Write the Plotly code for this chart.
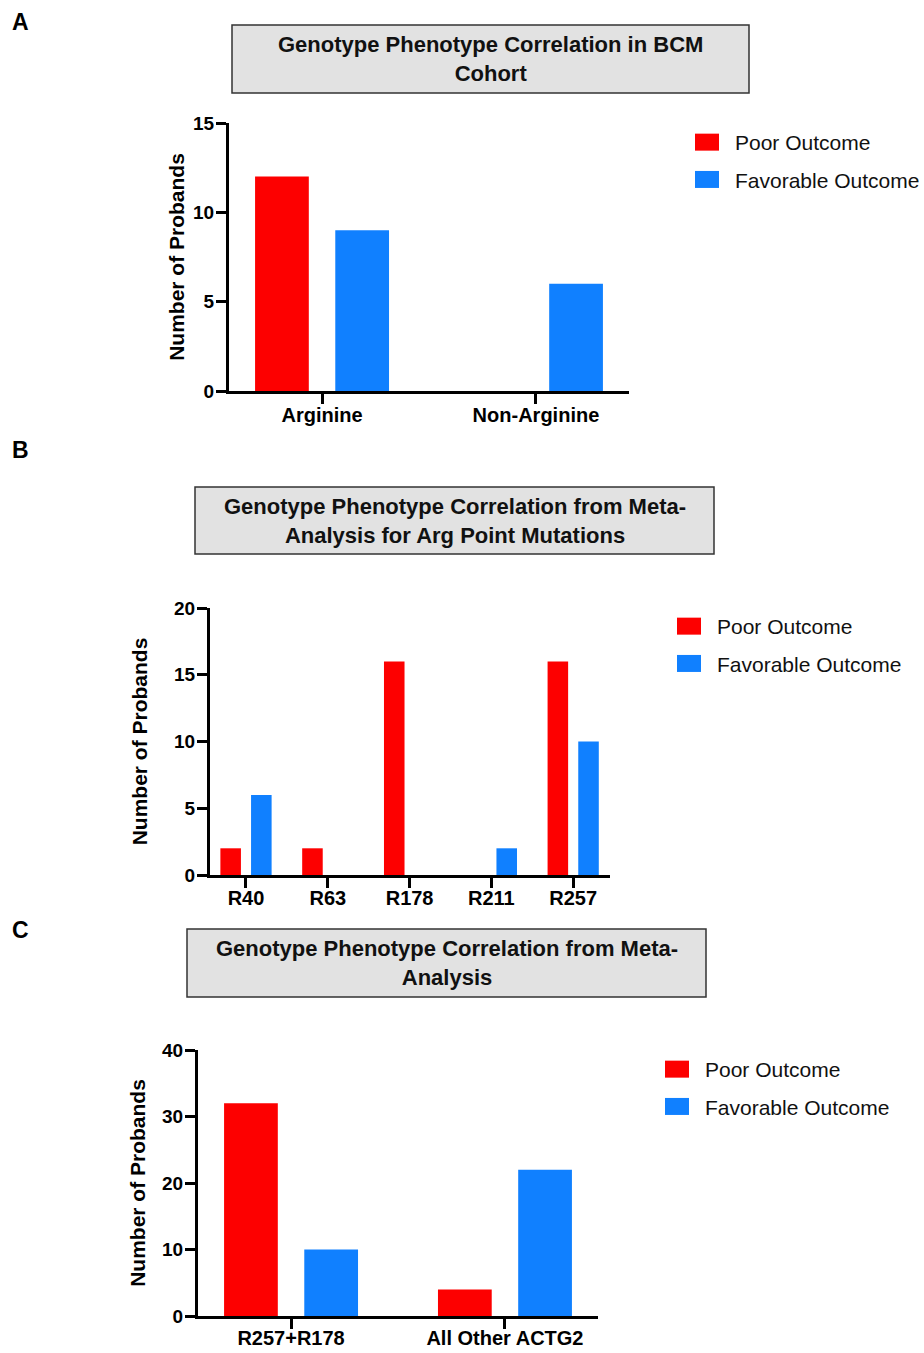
import plotly.graph_objects as go

W, H = 924, 1353

# ---------------- data ----------------
cats_a = ["Arginine", "Non-Arginine"]
poor_a = [12, 0]
fav_a = [9, 6]

cats_b = ["R40", "R63", "R178", "R211", "R257"]
poor_b = [2, 2, 16, 0, 16]
fav_b = [6, 0, 0, 2, 10]

cats_c = ["R257+R178", "All Other ACTG2"]
poor_c = [32, 4]
fav_c = [10, 22]

series_names = ["Poor Outcome", "Favorable Outcome"]
titles = [
    "Genotype Phenotype Correlation in BCM<br>Cohort",
    "Genotype Phenotype Correlation from Meta-<br>Analysis for Arg Point Mutations",
    "Genotype Phenotype Correlation from Meta-<br>Analysis",
]
panel_letters = ["A", "B", "C"]
y_title = "Number of Probands"

RED = "#fd0000"
BLUE = "#1080ff"
FONT = "Liberation Sans, Arial, Helvetica, sans-serif"


def px(x):
    return x / W


def py(y):
    return 1 - y / H


fig = go.Figure()

panels = [
    dict(cats=cats_a, poor=poor_a, fav=fav_a, xs="x", ys="y", leg="legend"),
    dict(cats=cats_b, poor=poor_b, fav=fav_b, xs="x2", ys="y2", leg="legend2"),
    dict(cats=cats_c, poor=poor_c, fav=fav_c, xs="x3", ys="y3", leg="legend3"),
]

for i, p in enumerate(panels):
    fig.add_trace(go.Bar(x=p["cats"], y=p["poor"], name=series_names[0],
                         marker=dict(color=RED, line=dict(width=0)),
                         xaxis=p["xs"], yaxis=p["ys"], legend=p["leg"],
                         legendgroup=f"poor{i}"))
    fig.add_trace(go.Bar(x=p["cats"], y=p["fav"], name=series_names[1],
                         marker=dict(color=BLUE, line=dict(width=0)),
                         xaxis=p["xs"], yaxis=p["ys"], legend=p["leg"],
                         legendgroup=f"fav{i}"))

axis_common = dict(showline=True, linewidth=3, linecolor="black", ticks="outside",
                   ticklen=10, tickwidth=3, tickcolor="black", showgrid=False,
                   zeroline=False, fixedrange=True, automargin=False)

# geometry of each panel (pixels): left, right, top, bottom of plot area
geo = [
    dict(l=229, r=629, t=123, b=391, xr=[-0.435, 1.435], yr=[0, 15], dt=5, so=3, xs=-6),
    dict(l=210, r=610, t=608, b=875, xr=[-0.44, 4.45], yr=[0, 20], dt=5, so=21, xs=-7),
    dict(l=198, r=598, t=1050, b=1316, xr=[-0.435, 1.435], yr=[0, 40], dt=10, so=11, xs=-8),
]

layout_axes = {}
for i, g in enumerate(geo):
    sfx = "" if i == 0 else str(i + 1)
    layout_axes["xaxis" + sfx] = dict(
        axis_common, domain=[px(g["l"]), px(g["r"])], anchor="y" + sfx,
        range=g["xr"], type="category", ticklabelstandoff=g["xs"],
        tickfont=dict(family=FONT, size=20, color="black", weight="bold"))
    layout_axes["yaxis" + sfx] = dict(
        axis_common, domain=[py(g["b"]), py(g["t"])], anchor="x" + sfx,
        range=g["yr"], dtick=g["dt"], tick0=0, ticklabelstandoff=-2,
        tickfont=dict(family=FONT, size=19, color="black", weight="bold"),
        title=dict(text=y_title, standoff=g["so"],
                   font=dict(family=FONT, size=21, color="black", weight="bold")))

fig.update_layout(**layout_axes)

# legends (native), placed so that entry text starts at the reference spot
leg_pos = [(735, 122), (717, 606), (705, 1049)]
for i, (tx, ty) in enumerate(leg_pos):
    key = "legend" if i == 0 else f"legend{i + 1}"
    fig.update_layout(**{key: dict(
        x=px(tx - 40), y=py(ty), xanchor="left", yanchor="top",
        font=dict(family=FONT, size=21, color="#111"),
        bgcolor="rgba(0,0,0,0)", borderwidth=0, tracegroupgap=7,
        traceorder="grouped", itemclick=False, itemdoubleclick=False)})

# title boxes
boxes = [(232, 749, 25, 93), (195, 714, 487, 554), (187, 706, 929, 997)]
shapes = []
annotations = []
for i, (l, r, t, b) in enumerate(boxes):
    shapes.append(dict(type="rect", xref="paper", yref="paper",
                       x0=px(l), x1=px(r), y0=py(b), y1=py(t),
                       fillcolor="#e2e2e2", line=dict(color="#333333", width=1.5),
                       layer="below"))
    annotations.append(dict(xref="paper", yref="paper", x=px((l + r) / 2),
                            y=py((t + b) / 2), xanchor="center", yanchor="middle",
                            text=titles[i], showarrow=False, align="center",
                            font=dict(family=FONT, size=22, color="#111", weight="bold")))

letter_pos = [(20, 22), (20, 450), (20, 930)]
for i, (lx, ly) in enumerate(letter_pos):
    annotations.append(dict(xref="paper", yref="paper", x=px(lx), y=py(ly),
                            xanchor="center", yanchor="middle", text=panel_letters[i],
                            showarrow=False,
                            font=dict(family=FONT, size=23, color="black", weight="bold")))

fig.update_layout(
    width=W, height=H, margin=dict(l=0, r=0, t=0, b=0, autoexpand=False),
    paper_bgcolor="white", plot_bgcolor="white",
    barmode="group", bargap=0.25, bargroupgap=0.33,
    shapes=shapes, annotations=annotations, showlegend=True,
)

# page without body margin; wider legend swatches like the reference
post = """
document.body.style.margin = '0';
document.body.style.overflow = 'hidden';
var gd = document.getElementById('{plot_id}');
function widenSwatches() {
  gd.querySelectorAll('g.legendpoints path').forEach(function (p) {
    p.setAttribute('d', 'M4,8.5H-25V-8.5H4Z');
  });
}
widenSwatches();
setTimeout(widenSwatches, 50);
gd.on('plotly_afterplot', widenSwatches);
"""

fig.write_html("out.html", config=dict(displayModeBar=False), post_script=post)
